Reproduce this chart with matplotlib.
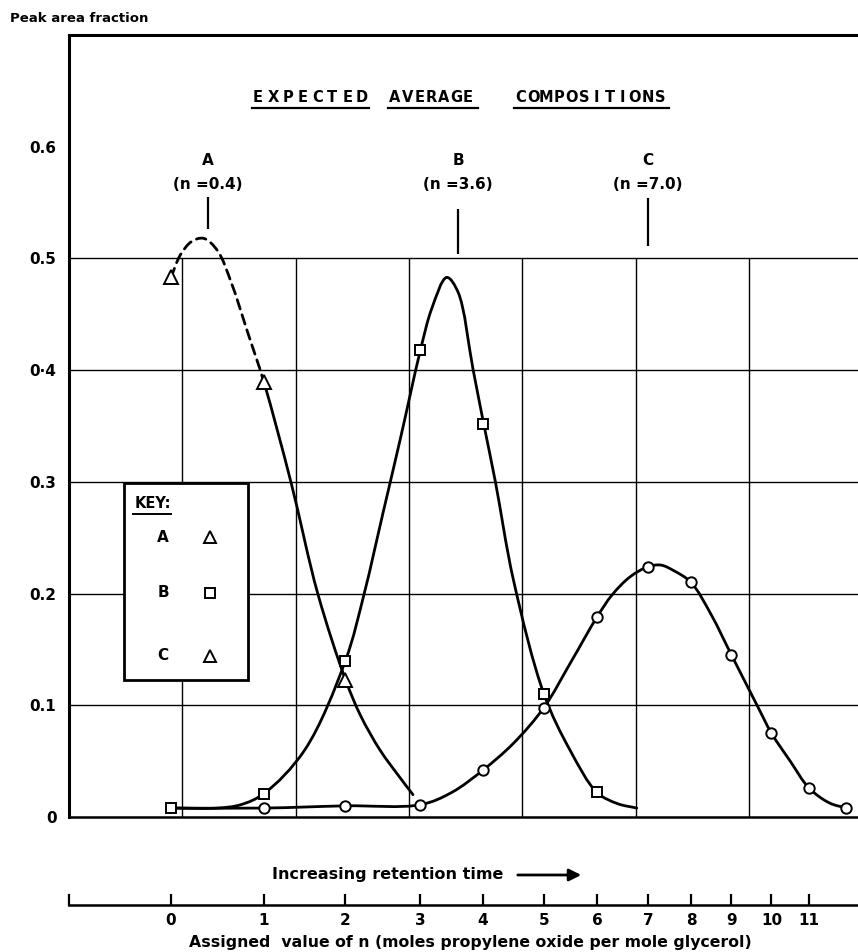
import numpy as np
import matplotlib
matplotlib.use('Agg')
import matplotlib.pyplot as plt
from matplotlib.path import Path
from matplotlib.patches import PathPatch, Rectangle
from matplotlib.lines import Line2D

# n scale along the retention-time axis (grid squares from the left edge)
n_labels = list(range(12))
retention_pos = [0.900, 1.721, 2.440, 3.102, 3.654, 4.192, 4.660, 5.110, 5.490, 5.847, 6.200, 6.531]

# measured peak area fractions
a_n = [0, 1, 2]
a_frac = [0.483, 0.389, 0.123]
b_n = [0, 1, 2, 3, 4, 5, 6]
b_frac = [0.008, 0.021, 0.140, 0.418, 0.352, 0.110, 0.022]
c_n = [1, 2, 3, 4, 5, 6, 7, 8, 9, 10, 11, 12]
c_frac = [0.008, 0.010, 0.011, 0.042, 0.098, 0.179, 0.224, 0.210, 0.145, 0.075, 0.026, 0.008]

# hand-drawn curves (dashed part of A runs up to n = 1)
a_curve_n = [0.0, 0.1, 0.22, 0.35, 0.5, 0.65, 0.82, 1.0, 1.33, 1.66, 2.0, 2.2, 2.46, 2.73, 2.9]
a_curve_y = [0.483, 0.503, 0.515, 0.518, 0.507, 0.478, 0.435, 0.389, 0.300, 0.200, 0.123, 0.091, 0.060, 0.035, 0.020]
a_dashed_until = 1.0
b_curve_n = [0.0, 0.5, 0.75, 1.0, 1.5, 2.0, 2.25, 2.5, 2.73, 3.0, 3.18, 3.42, 3.6, 3.84, 4.0, 4.2,
             4.5, 5.0, 5.49, 6.0, 6.4, 6.78]
b_curve_y = [0.008, 0.008, 0.011, 0.021, 0.060, 0.140, 0.200, 0.272, 0.338, 0.418, 0.455, 0.483, 0.470,
             0.401, 0.355, 0.301, 0.212, 0.110, 0.060, 0.022, 0.012, 0.008]
c_curve_n = [0.0, 1.0, 2.0, 3.0, 3.5, 4.0, 4.5, 5.0, 5.5, 6.0, 6.3, 6.65, 7.0, 7.3, 7.6, 8.0, 8.5,
             9.0, 9.64, 10.0, 10.5, 11.0, 11.55, 12.0]
c_curve_y = [0.008, 0.008, 0.010, 0.011, 0.022, 0.042, 0.066, 0.098, 0.138, 0.179, 0.199, 0.215, 0.224,
             0.2255, 0.2205, 0.210, 0.181, 0.145, 0.100, 0.075, 0.050, 0.026, 0.0125, 0.008]

# expected average compositions
peak_names = ['A', 'B', 'C']
peak_n = [0.4, 3.6, 7.0]
peak_tick_low = [0.526, 0.504, 0.511]
peak_tick_high = [0.555, 0.544, 0.554]

ytick_vals = [0, 0.1, 0.2, 0.3, 0.4, 0.5, 0.6]
ytick_text = ['0', '0.1', '0.2', '0.3', '0\u00b74', '0.5', '0.6']

key_names = ['A', 'B', 'C']
key_markers = ['^', 's', '^']

# one grid square is 113.3 px wide, y runs 1117 px per unit
GRID_PX = 113.3
Y_PX = 1117.0


def n_to_r(n):
    n = np.asarray(n, dtype=float)
    r = np.interp(n, n_labels, retention_pos)
    lo = (retention_pos[1] - retention_pos[0]) / (n_labels[1] - n_labels[0])
    hi = (retention_pos[-1] - retention_pos[-2]) / (n_labels[-1] - n_labels[-2])
    r = np.where(n < n_labels[0], retention_pos[0] + (n - n_labels[0]) * lo, r)
    r = np.where(n > n_labels[-1], retention_pos[-1] + (n - n_labels[-1]) * hi, r)
    return r


def r_to_n(r):
    r = np.asarray(r, dtype=float)
    n = np.interp(r, retention_pos, n_labels)
    lo = (n_labels[1] - n_labels[0]) / (retention_pos[1] - retention_pos[0])
    hi = (n_labels[-1] - n_labels[-2]) / (retention_pos[-1] - retention_pos[-2])
    n = np.where(r < retention_pos[0], n_labels[0] + (r - retention_pos[0]) * lo, n)
    n = np.where(r > retention_pos[-1], n_labels[-1] + (r - retention_pos[-1]) * hi, n)
    return n


def curve_segments(n, y):
    # centripetal Catmull-Rom through the traced points, in screen proportions,
    # handed back as cubic bezier pieces in (n, fraction)
    pts = np.column_stack([n_to_r(n) * GRID_PX, np.asarray(y, dtype=float) * Y_PX])
    ext = np.vstack([2 * pts[0] - pts[1], pts, 2 * pts[-1] - pts[-2]])
    segs = []
    for i in range(len(pts) - 1):
        p0, p1, p2, p3 = ext[i:i + 4]
        d0 = np.linalg.norm(p1 - p0) ** 0.5 + 1e-9
        d1 = np.linalg.norm(p2 - p1) ** 0.5 + 1e-9
        d2 = np.linalg.norm(p3 - p2) ** 0.5 + 1e-9
        t1 = d1 * ((p1 - p0) / d0 - (p2 - p0) / (d0 + d1)) + (p2 - p1)
        t2 = d1 * ((p3 - p2) / d2 - (p3 - p1) / (d1 + d2)) + (p2 - p1)
        quad = np.array([p1, p1 + t1 / 3, p2 - t2 / 3, p2])
        quad[:, 0] = r_to_n(quad[:, 0] / GRID_PX)
        quad[:, 1] = quad[:, 1] / Y_PX
        segs.append(quad)
    return segs


def segs_to_path(segs):
    verts = [segs[0][0]]
    codes = [Path.MOVETO]
    for s in segs:
        verts.extend(s[1:])
        codes.extend([Path.CURVE4] * 3)
    return Path(np.array(verts), codes)


bold = dict(family='DejaVu Sans', fontweight='bold')
W, H = 858, 952

fig = plt.figure(figsize=(W / 100, H / 100), dpi=100)
ax = fig.add_axes([69 / W, 135 / H, 789 / W, 782 / H])
ax.set_xscale('function', functions=(n_to_r, r_to_n))
ax.set_xlim(r_to_n(0), r_to_n(789 / GRID_PX))
ax.set_ylim(0, 0.7)

for side in ['left', 'top']:
    ax.spines[side].set_linewidth(2.2)
ax.spines['bottom'].set_linewidth(1.8)
ax.spines['right'].set_visible(False)

ax.set_yticks(ytick_vals)
ax.set_yticklabels(ytick_text, fontsize=11, **bold)
ax.tick_params(axis='y', length=0, pad=9)
ax.tick_params(axis='x', bottom=False, labelbottom=False)

# graph paper
ax.vlines(r_to_n(np.arange(1, 7)), 0, 0.5, color='k', lw=1.0, zorder=1)
ax.hlines([0.1, 0.2, 0.3, 0.4, 0.5], *ax.get_xlim(), color='k', lw=1.0, zorder=1)

line_kw = dict(fill=False, edgecolor='k', lw=2.0, zorder=4, capstyle='round')
segs_a = curve_segments(a_curve_n, a_curve_y)
k = a_curve_n.index(a_dashed_until)
ax.add_patch(PathPatch(segs_to_path(segs_a[:k]), linestyle=(0, (3.5, 2.2)), **line_kw))
ax.add_patch(PathPatch(segs_to_path(segs_a[k:]), **line_kw))
ax.add_patch(PathPatch(segs_to_path(curve_segments(b_curve_n, b_curve_y)), **line_kw))
ax.add_patch(PathPatch(segs_to_path(curve_segments(c_curve_n, c_curve_y)), **line_kw))

mk = dict(linestyle='none', mfc='white', mec='k', mew=1.4, zorder=5)
ax.plot(a_n, a_frac, marker='^', ms=10, **mk)
ax.plot(b_n, b_frac, marker='s', ms=7, **mk)
ax.plot(c_n, c_frac, marker='o', ms=7.5, **mk)

# peak labels
for name, nv, lo, hi in zip(peak_names, peak_n, peak_tick_low, peak_tick_high):
    ax.vlines(nv, lo, hi, color='k', lw=1.6)
    ax.text(nv, 0.588, name, ha='center', va='center', fontsize=11, **bold)
    ax.text(nv, 0.566, '(n =%.1f)' % nv, ha='center', va='center', fontsize=11, **bold)

# key
ax.add_patch(Rectangle((0.0697, 0.1752), 0.1572, 0.2519, transform=ax.transAxes,
                       facecolor='white', edgecolor='k', lw=2.0, zorder=3))
ax.text(0.0837, 0.4015, 'KEY:', transform=ax.transAxes, ha='left', va='center',
        fontsize=10.5, zorder=6, **bold)
ax.plot([0.0814, 0.1298], [0.3870, 0.3870], transform=ax.transAxes, color='k', lw=1.4, zorder=6)
for name, m, yy in zip(key_names, key_markers, [0.358, 0.2865, 0.2065]):
    ax.text(0.1192, yy, name, transform=ax.transAxes, ha='center', va='center',
            fontsize=11, zorder=6, **bold)
    ax.plot([0.1787], [yy], marker=m, ms=9 if m == '^' else 6.5, transform=ax.transAxes,
            clip_on=False, **dict(mk, zorder=6))

# n axis below the chart
ax2 = fig.add_axes([69 / W, 47 / H, 789 / W, 10 / H], sharex=ax)
ax2.patch.set_visible(False)
ax2.spines['top'].set_visible(False)
ax2.spines['right'].set_visible(False)
ax2.spines['bottom'].set_linewidth(1.8)
ax2.spines['left'].set_linewidth(1.6)
ax2.set_yticks([])
ax2.set_xticks(n_labels)
ax2.set_xticklabels([str(v) for v in n_labels], fontsize=11, **bold)
ax2.tick_params(axis='x', direction='in', length=8, width=1.6, pad=6)
ax2.set_xlim(ax.get_xlim())


def fig_xy(px, py):
    return px / W, 1 - py / H


# title, letter-spaced and underlined word by word
title_words = ['EXPECTED', 'AVERAGE', 'COMPOSITIONS']
for word, (x0, x1), (u0, u1) in zip(title_words, [(258, 362), (395, 468), (521, 660)],
                                    [(252, 369), (388, 478), (514, 669)]):
    for ch, px in zip(word, np.linspace(x0, x1, len(word))):
        fig.text(*fig_xy(px, 97), ch, ha='center', va='center', fontsize=10.5, **bold)
    fig.add_artist(Line2D([u0 / W, u1 / W], [1 - 108 / H] * 2, color='k', lw=1.6))

fig.text(*fig_xy(10, 18), 'Peak area fraction', ha='left', va='center', fontsize=9.5, **bold)
fig.text(*fig_xy(272, 874), 'Increasing retention time', ha='left', va='center', fontsize=11.5, **bold)
ax.annotate('', xy=fig_xy(584, 875), xytext=fig_xy(515, 875), xycoords='figure fraction',
            textcoords='figure fraction',
            arrowprops=dict(arrowstyle='-|>', color='k', lw=2, mutation_scale=18))
fig.text(*fig_xy(470, 943), 'Assigned  value of n (moles propylene oxide per mole glycerol)',
         ha='center', va='center', fontsize=11.3, **bold)

fig.savefig('out.png', dpi=100)
